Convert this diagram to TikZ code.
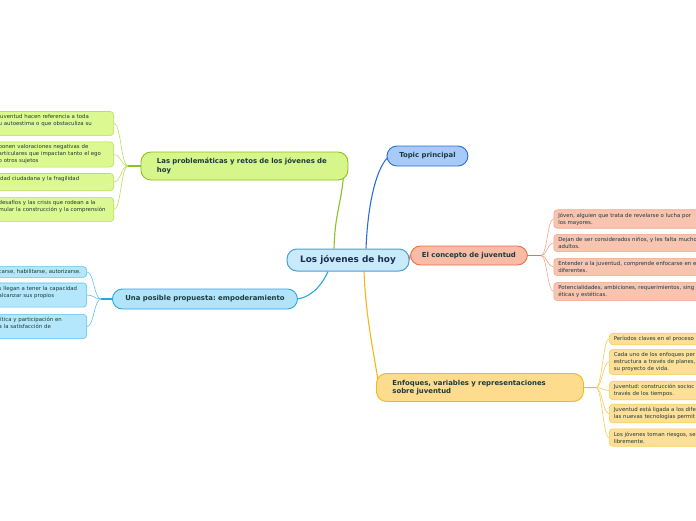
\documentclass[tikz,border=0pt]{standalone}
\usepackage{fontspec}
\setmainfont{DejaVu Sans}
\usetikzlibrary{backgrounds}
\usepackage{xcolor}
\frenchspacing

\definecolor{ink}{HTML}{1E3A3C}
\definecolor{rootink}{HTML}{1A2D52}
\definecolor{rootfill}{HTML}{C8EAFB}
\definecolor{rootline}{HTML}{4A9FD8}
\definecolor{topfill}{HTML}{A8CAF8}
\definecolor{topline}{HTML}{2C6ED6}
\definecolor{confill}{HTML}{F7BBA6}
\definecolor{conline}{HTML}{F26C45}
\definecolor{conleaf}{HTML}{F8C3AF}
\definecolor{contwig}{HTML}{F5A487}
\definecolor{enffill}{HTML}{FDDC8E}
\definecolor{enfline}{HTML}{F7B619}
\definecolor{enfleaf}{HTML}{FDDF98}
\definecolor{enftwig}{HTML}{F9CB55}
\definecolor{profill}{HTML}{D6F58A}
\definecolor{proline}{HTML}{8CC21E}
\definecolor{proleaf}{HTML}{DCF890}
\definecolor{protwig}{HTML}{B9DF5E}
\definecolor{empfill}{HTML}{B1E4FB}
\definecolor{empline}{HTML}{28A8E0}
\definecolor{empleaf}{HTML}{B4E6FC}
\definecolor{emptwig}{HTML}{5CC0EC}

\begin{document}
\begin{tikzpicture}[x=1pt, y=-1pt,
    rootbox/.style={draw=rootline, fill=rootfill, line width=1pt, rounded corners=10pt,
      text=rootink, font=\fontsize{8.9}{10}\selectfont\bfseries, inner sep=0pt,
      minimum width=122pt, minimum height=22pt, anchor=west},
    topicbox/.style={line width=0.9pt, rounded corners=10pt, text=ink,
      font=\fontsize{6.9}{8.4}\selectfont\bfseries, inner sep=0pt, anchor=west},
    widetopic/.style={topicbox, text width=175pt, inner xsep=16pt, minimum height=28pt, align=left},
    leafbox/.style={line width=0.6pt, rounded corners=3.5pt, text=ink,
      font=\fontsize{5.4}{7}\selectfont, align=left, inner ysep=3pt},
    leftleaf/.style={leafbox, anchor=east, inner xsep=3pt},
    rightleaf/.style={leafbox, anchor=west, inner xsep=4.5pt, text width=180pt},
    branch/.style={line width=1.1pt},
    twig/.style={line width=0.6pt},
  ]
  \useasboundingbox (0,0) rectangle (696,520);
  \clip (0,0) rectangle (696,520);

  % centre and main topics
  \node[rootbox] (root) at (286.5,260) {Los jóvenes de hoy};
  \node[topicbox, draw=topline, fill=topfill, minimum width=81pt, minimum height=20pt]
    (topic) at (386.5,156) {Topic principal};
  \node[topicbox, draw=conline, fill=confill, minimum width=117pt, minimum height=19pt]
    (concepto) at (410,255.5) {El concepto de juventud};
  \node[widetopic, draw=enfline, fill=enffill] (enfoques) at (376,387.5)
    {Enfoques, variables y representaciones\\sobre juventud};
  \node[widetopic, draw=proline, fill=profill] (problematicas) at (140.5,166)
    {Las problemáticas y retos de los jóvenes de\\hoy};
  \node[topicbox, draw=empline, fill=empfill, minimum width=185pt, minimum height=20pt]
    (propuesta) at (112,299) {Una posible propuesta: empoderamiento};

  % leaves, green
  \node[leftleaf, draw=protwig, fill=proleaf, text width=112pt] (g1) at (114,123.5)
    {juventud hacen referencia a toda\\u autoestima o que obstaculiza su\\\mbox{}};
  \node[leftleaf, draw=protwig, fill=proleaf, text width=112pt] (g2) at (114,154.5)
    {ponen valoraciones negativas de\\articulares que impactan tanto el ego\\o otros sujetos};
  \node[leftleaf, draw=protwig, fill=proleaf, text width=112pt] (g3) at (114,182)
    {idad ciudadana y la fragilidad\\\mbox{}};
  \node[leftleaf, draw=protwig, fill=proleaf, text width=112pt] (g4) at (114,209.5)
    {desafíos y las crisis que rodean a la\\mular la construcción y la comprensión\\\mbox{}};

  % leaves, blue
  \node[leftleaf, draw=emptwig, fill=empleaf, text width=85pt] (b1) at (87,272)
    {carse, habilitarse, autorizarse.};
  \node[leftleaf, draw=emptwig, fill=empleaf, text width=85pt] (b2) at (87,295)
    {s llegan a tener la capacidad\\alcanzar sus propios\\\mbox{}};
  \node[leftleaf, draw=emptwig, fill=empleaf, text width=85pt] (b3) at (87,326.5)
    {lítica y participación en\\a la satisfacción de\\\mbox{}};

  % leaves, red
  \node[rightleaf, draw=contwig, fill=conleaf] (r1) at (553.5,219)
    {Jóven, alguien que trata de revelarse o lucha por\\los mayores.};
  \node[rightleaf, draw=contwig, fill=conleaf] (r2) at (553.5,243)
    {Dejan de ser considerados niños, y les falta mucho\\adultos.};
  \node[rightleaf, draw=contwig, fill=conleaf] (r3) at (553.5,267)
    {Entender a la juventud, comprende enfocarse en e\\diferentes.};
  \node[rightleaf, draw=contwig, fill=conleaf] (r4) at (553.5,291.5)
    {Potencialidades, ambiciones, requerimientos, sing\\éticas y estéticas.};

  % leaves, yellow
  \node[rightleaf, draw=enftwig, fill=enfleaf] (y1) at (609,339)
    {Períodos claves en el proceso};
  \node[rightleaf, draw=enftwig, fill=enfleaf] (y2) at (609,362)
    {Cada uno de los enfoques per\\estructura a través de planes,\\su proyecto de vida.};
  \node[rightleaf, draw=enftwig, fill=enfleaf] (y3) at (609,390.5)
    {Juventud: construcción socioc\\través de los tiempos.};
  \node[rightleaf, draw=enftwig, fill=enfleaf] (y4) at (609,413.5)
    {Juventud está ligada a los dife\\las nuevas tecnologías permit};
  \node[rightleaf, draw=enftwig, fill=enfleaf] (y5) at (609,437.5)
    {Los jóvenes toman riesgos, se\\libremente.};

  % connectors
  \begin{scope}[on background layer]
    \draw[branch, proline] ([xshift=-14pt]root.north)
      .. controls +(1,-35) and +(-3,30) .. ([xshift=-5pt,yshift=3pt]problematicas.south east);
    \draw[branch, topline] ([xshift=18pt]root.north)
      .. controls +(2,-49) and +(-12,9) .. ([xshift=3pt]topic.west);
    \draw[branch, empline] ([xshift=-20pt]root.south)
      .. controls +(-8,18) and +(12,0) .. ([xshift=-3pt]propuesta.east);
    \draw[branch, enfline] ([xshift=16pt]root.south)
      .. controls +(2,50) and +(-4,-30) .. ([xshift=3pt]enfoques.west);
    \draw[branch, conline] (root.east) -- (concepto.west);

    \coordinate (projoin) at (128,166);
    \draw[branch, proline] (problematicas.west) -- (projoin);
    \foreach \n in {g1,g2,g3,g4}
      \draw[twig, protwig] (projoin) .. controls +(-7,0) and +(7,0) .. (\n.east);

    \coordinate (empjoin) at (101,299);
    \draw[branch, empline] (propuesta.west) -- (empjoin);
    \foreach \n in {b1,b2,b3}
      \draw[twig, emptwig] (empjoin) .. controls +(-7,0) and +(7,0) .. (\n.east);

    \coordinate (conjoin) at (541,255.5);
    \draw[branch, conline] (concepto.east) -- (conjoin);
    \foreach \n in {r1,r2,r3,r4}
      \draw[twig, contwig] (conjoin) .. controls +(6,0) and +(-6,0) .. (\n.west);

    \coordinate (enfjoin) at (596,387.5);
    \draw[branch, enfline] (enfoques.east) -- (enfjoin);
    \foreach \n in {y1,y2,y3,y4,y5}
      \draw[twig, enftwig] (enfjoin) .. controls +(6,0) and +(-6,0) .. (\n.west);
  \end{scope}
\end{tikzpicture}
\end{document}
